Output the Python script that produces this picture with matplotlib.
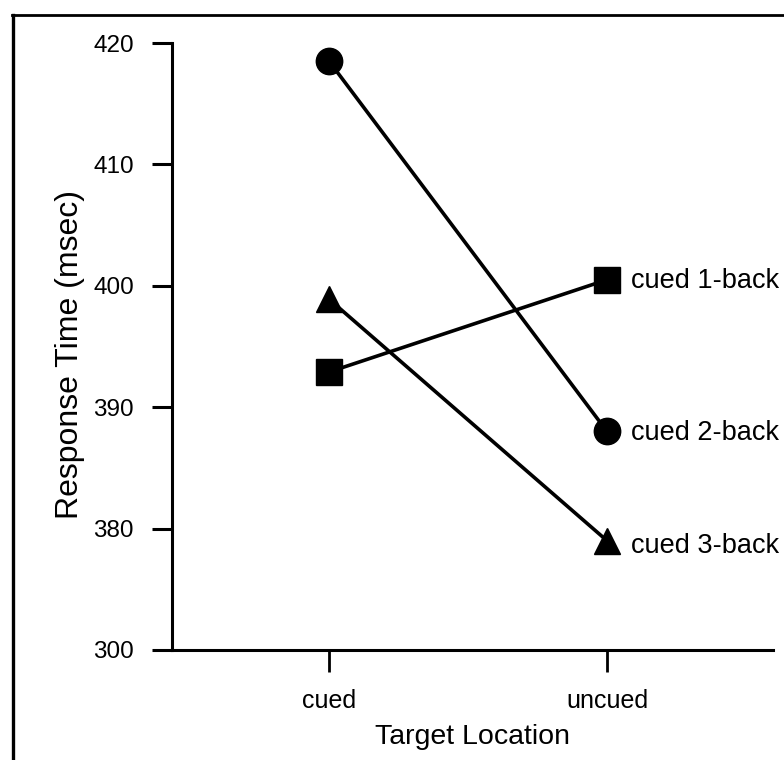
import matplotlib.pyplot as plt
from matplotlib.lines import Line2D

plt.rcParams["font.family"] = ["Liberation Sans", "DejaVu Sans"]

# ---------------------------------------------------------------
# Data
conditions = ["cued", "uncued"]
one_back = [392.9, 400.5]
two_back = [418.5, 388.0]
three_back = [398.9, 379.0]

series = [
    ("cued 1-back", one_back, "s"),
    ("cued 2-back", two_back, "o"),
    ("cued 3-back", three_back, "^"),
]

# broken axis: bottom tick drawn at 370 but labelled 300
ytick_pos = [370, 380, 390, 400, 410, 420]
ytick_labels = ["300", "380", "390", "400", "410", "420"]

# ---------------------------------------------------------------
fig = plt.figure(figsize=(7.84, 7.60), dpi=100)
ax = fig.add_axes([172 / 784, 110 / 760, 601 / 784, 607 / 760])

x = list(range(len(conditions)))
for label, vals, marker in series:
    ax.plot(x, vals, color="black", linewidth=2.6, marker=marker,
            markersize=19, clip_on=False, zorder=3)
    dy = -4 if marker == "^" else -1
    ax.annotate(label, xy=(x[-1], vals[-1]), xytext=(17, dy),
                textcoords="offset points", va="center", ha="left",
                fontsize=19.5, annotation_clip=False)

# ======================================================
# Axis's
ax.set_xlim(-0.565, 1.597)
ax.set_ylim(370, 420)
ax.set_xticks(x)
ax.set_xticklabels(conditions)
ax.set_yticks(ytick_pos)
ax.set_yticklabels(ytick_labels)

for side in ["top", "right"]:
    ax.spines[side].set_visible(False)
for side in ["left", "bottom"]:
    ax.spines[side].set_linewidth(2.2)

ax.tick_params(axis="y", length=14.5, width=2.2, labelsize=17.5, pad=13)
ax.tick_params(axis="x", length=16, width=2.0, labelsize=18, pad=12)

ax.set_ylabel("Response Time (msec)", fontsize=23, va="center")
ax.yaxis.set_label_coords(-0.17, 0.486)
ax.set_xlabel("Target Location", fontsize=20.5, va="center")
ax.xaxis.set_label_coords(0.5, -0.143)

# frame lines around the figure (top and left edges)
fig.add_artist(Line2D([12 / 784, 1], [1 - 15 / 760, 1 - 15 / 760],
                      transform=fig.transFigure, color="black", linewidth=2))
fig.add_artist(Line2D([13 / 784, 13 / 784], [0, 1 - 15 / 760],
                      transform=fig.transFigure, color="black", linewidth=2.4))

plt.savefig("out.png", dpi=100)
plt.close()
